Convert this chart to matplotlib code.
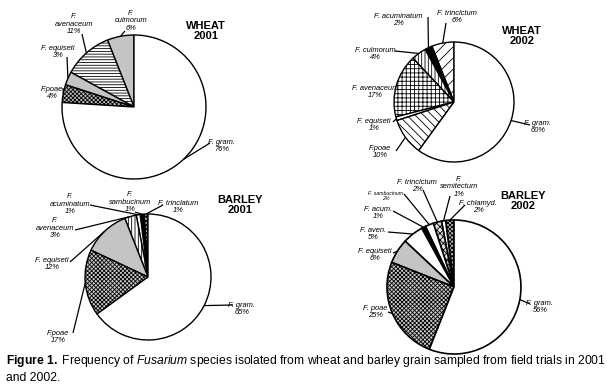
import matplotlib
matplotlib.use("Agg")
import matplotlib.pyplot as plt
from matplotlib import font_manager
import numpy as np

# ---------------------------------------------------------------- data
WHEAT01_NAMES = ["F.\nculmorum", "F.\navenaceum", "F. equiseti", "F.poae", "F. gram."]
WHEAT01_VALS = [6, 11, 3, 4, 76]

WHEAT02_NAMES = ["F. trinclctum", "F. acuminatum", "F. culmorum", "F. avenaceum",
                 "F. equiseti", "F.poae", "F. gram."]
WHEAT02_VALS = [6, 2, 4, 17, 1, 10, 60]

BARLEY01_NAMES = ["F. trinclatum", "F.\nsambucinum", "F.\nacuminatum", "F.\navenaceum",
                  "F. equiseti", "F.poae", "F. gram."]
BARLEY01_VALS = [1, 1, 1, 3, 12, 17, 65]

BARLEY02_NAMES = ["F. chlamyd.", "F.\nsemitectum", "F. trinclctum", "F. sambucinum",
                  "F. acum.", "F. aven.", "F. equiseti", "F. poae", "F. gram."]
BARLEY02_VALS = [2, 1, 2, 2, 1, 5, 6, 25, 56]

W, H = 607, 390
GREY = "#c4c4c4"

names = {f.name for f in font_manager.fontManager.ttflist}
NARROW = "Liberation Sans Narrow" if "Liberation Sans Narrow" in names else "Liberation Sans"
CAP_SIZE = 9.5 if NARROW == "Liberation Sans Narrow" else 8.75

plt.rcParams["hatch.linewidth"] = 0.6
plt.rcParams["font.family"] = "Liberation Sans"

fig = plt.figure(figsize=(W / 100, H / 100), dpi=100)
ax = fig.add_axes([0, 0, 1, 1])


def draw_pie(vals, labels, fills, hatches, center, radius, text_pos, line_from,
             title, title_pos, small=(), edge_lw=1.0):
    cx, cy = center[0], H - center[1]
    wedges, _ = ax.pie(vals, colors=fills, hatch=hatches, startangle=90,
                       counterclock=True, center=(cx, cy), radius=radius,
                       wedgeprops=dict(edgecolor="black", linewidth=edge_lw))
    for i, (w, name, v) in enumerate(zip(wedges, labels, vals)):
        mid = np.deg2rad((w.theta1 + w.theta2) / 2)
        ex, ey = cx + radius * np.cos(mid), cy + radius * np.sin(mid)
        if line_from[i] is not None:
            lx, ly = line_from[i]
            ax.plot([lx, ex], [H - ly, ey], color="black", lw=0.9,
                    solid_capstyle="butt")
        tx, ty = text_pos[i]
        ax.text(tx, H - ty, f"{name}\n{v}%", ha="center", va="center",
                ma="center", fontsize=3.8 if i in small else 5.4,
                style="italic", linespacing=1.1)
    ax.text(title_pos[0], H - title_pos[1], title, ha="center", va="center",
            fontsize=8, fontweight="bold", linespacing=1.05)


# WHEAT 2001
draw_pie(WHEAT01_VALS, WHEAT01_NAMES,
         [GREY, "white", GREY, "#bbbbbb", "white"],
         ["", "------", "", "xxxxxxxx", ""],
         (134, 107), 72,
         [(131, 21), (74, 24), (58, 52), (52, 93), (222, 146)],
         [(125, 31), (82, 34), (67, 57), (63, 88), (210, 143)],
         "WHEAT\n2001", (206, 31))

# WHEAT 2002
draw_pie(WHEAT02_VALS, WHEAT02_NAMES,
         ["white", "black", "white", "white", "white", "white", "white"],
         ["///", "", "|||||", "++++", "", "\\\\\\\\", ""],
         (454, 102), 60,
         [(457, 17), (398, 20), (375, 54), (375, 92), (374, 125), (380, 152), (538, 127)],
         [(446, 23), (428, 17), (395, 51), None, (393, 122), (396, 151), (530, 125)],
         "WHEAT\n2002", (522, 36))

# BARLEY 2001
draw_pie(BARLEY01_VALS, BARLEY01_NAMES,
         ["#bbbbbb", "black", "white", "white", GREY, "#cccccc", "white"],
         ["xxxxxxxx", "", "", "|||||", "", "xxxxxxxx", ""],
         (148, 277), 63,
         [(178, 207), (130, 202), (70, 204), (55, 228), (52, 264), (58, 337), (242, 309)],
         [(163, 205), (135, 212), (90, 205), (75, 230), (70, 262), (73, 333), (233, 305)],
         "BARLEY\n2001", (240, 205))

# BARLEY 2002
draw_pie(BARLEY02_VALS, BARLEY02_NAMES,
         ["#bbbbbb", "white", "#dddddd", "white", "black", "white", GREY, "#cccccc", "white"],
         ["xxxxxxxx", "", "xxxxx", "", "", "", "", "xxxxxxxx", ""],
         (454, 287), 67,
         [(478, 207), (459, 187), (417, 186), (386, 196), (378, 213), (373, 234),
          (375, 255), (375, 312), (540, 307)],
         [(465, 205), (450, 196), (423, 190), (404, 194), (393, 211), (388, 232),
          (393, 253), (388, 312), (530, 304)],
         "BARLEY\n2002", (523, 201), small=(3,), edge_lw=1.2)

ax.set_xlim(0, W)
ax.set_ylim(0, H)
ax.set_aspect("equal")
ax.axis("off")

# caption
plt.rcParams["mathtext.fontset"] = "custom"
plt.rcParams["mathtext.rm"] = NARROW
plt.rcParams["mathtext.it"] = NARROW + ":italic"
plt.rcParams["mathtext.bf"] = NARROW + ":bold"
ax.text(6, H - 361, r"$\mathbf{Figure\ 1.}$ Frequency of $\mathit{Fusarium}$ species isolated "
        "from wheat and barley grain sampled from field trials in 2001",
        ha="left", va="center", fontsize=CAP_SIZE, family=NARROW)
ax.text(6, H - 378, "and 2002.", ha="left", va="center", fontsize=CAP_SIZE, family=NARROW)

fig.savefig("out.png", dpi=100)
